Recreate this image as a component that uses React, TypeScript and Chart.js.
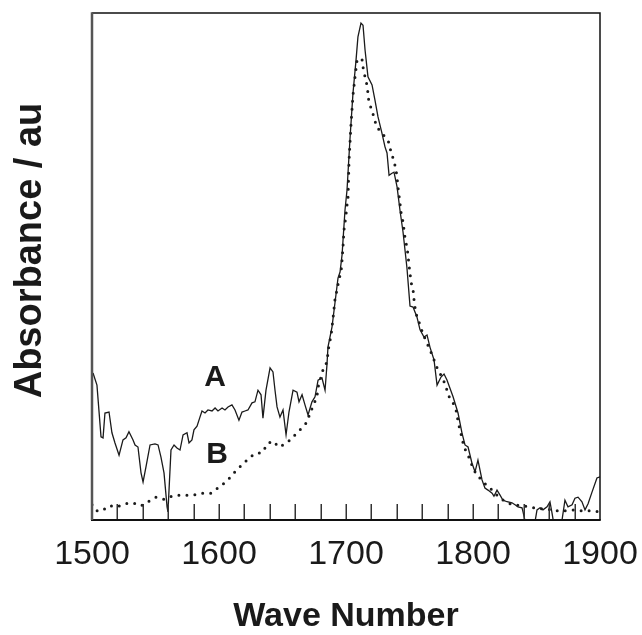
import React, { useEffect, useRef } from "react";
import { Chart, registerables } from "chart.js";

Chart.register(...registerables);

// Spectrum A (solid line): wave number / absorbance (arbitrary units, 0..100)
const waveA = [
  1500.8, 1503.9, 1507.1, 1508.7, 1510.2, 1513.4, 1515.7, 1518.1, 1521.3, 1524.4,
  1526.8, 1529.1, 1532.3, 1533.9, 1536.2, 1538.6, 1540.2, 1542.5, 1545.7, 1549.6,
  1552.0, 1554.3, 1556.7, 1559.1, 1559.8, 1562.2, 1564.6, 1566.9, 1569.3, 1571.7,
  1574.8, 1576.4, 1578.7, 1580.3, 1582.7, 1585.0, 1586.6, 1589.0, 1591.3, 1594.5,
  1596.9, 1599.2, 1602.4, 1604.7, 1607.1, 1610.2, 1612.6, 1615.7, 1618.1, 1620.5,
  1622.8, 1626.0, 1628.3, 1630.7, 1633.1, 1634.6, 1637.0, 1640.2, 1642.5, 1644.1,
  1645.7, 1648.0, 1650.4, 1652.8, 1655.1, 1658.3, 1661.4, 1663.0, 1665.4, 1667.7,
  1670.1, 1673.2, 1675.6, 1678.0, 1681.1, 1683.5, 1685.0, 1685.8, 1689.0, 1691.3,
  1693.7, 1695.3, 1696.9, 1699.2, 1700.8, 1703.1, 1705.5, 1707.9, 1709.4, 1711.8,
  1713.4, 1715.0, 1717.3, 1720.5, 1722.8, 1725.2, 1728.3, 1730.7, 1732.3, 1733.9,
  1736.2, 1737.8, 1740.2, 1742.5, 1744.9, 1748.0, 1750.4, 1752.8, 1755.9, 1758.3,
  1761.4, 1763.8, 1766.1, 1769.3, 1771.7, 1774.8, 1777.2, 1779.5, 1784.3, 1788.2,
  1791.3, 1793.7, 1796.1, 1799.2, 1801.6, 1803.9, 1807.1, 1809.4, 1811.8, 1815.0,
  1816.5, 1818.9, 1821.3, 1823.6, 1826.8, 1830.7, 1833.1, 1835.4, 1838.6, 1839.4,
  1841.7, 1844.9, 1848.8, 1850.4, 1852.8, 1855.1, 1858.3, 1860.6, 1862.2, 1863.8,
  1866.9, 1870.1, 1872.4, 1874.8, 1878.0, 1880.3, 1882.7, 1885.8, 1888.2, 1890.6,
  1893.7, 1897.6, 1900.0,
];
const absA = [
  29.0, 26.6, 16.4, 16.2, 21.1, 21.3, 17.2, 15.2, 12.8, 15.8,
  16.2, 17.4, 15.8, 14.8, 14.4, 9.3, 7.5, 10.5, 14.8, 15.0,
  14.8, 12.4, 9.3, 2.6, 1.6, 13.8, 14.8, 14.2, 13.8, 16.8,
  17.2, 15.2, 15.8, 17.8, 18.5, 20.3, 21.5, 21.1, 21.7, 21.5,
  22.1, 21.5, 22.1, 21.7, 22.3, 22.7, 21.7, 19.7, 21.3, 21.5,
  21.7, 23.1, 23.3, 25.6, 24.7, 20.1, 25.6, 30.0, 29.2, 25.6,
  22.3, 20.3, 21.7, 16.8, 21.3, 25.6, 25.2, 23.3, 24.7, 22.7,
  20.7, 23.3, 24.3, 27.6, 28.0, 25.6, 30.6, 34.1, 38.1, 42.8,
  47.7, 48.9, 52.3, 61.1, 65.1, 75.0, 84.2, 90.7, 95.3, 98.0,
  97.6, 92.7, 87.4, 85.8, 82.8, 79.5, 76.3, 73.6, 72.4, 68.0,
  68.4, 68.6, 65.7, 61.1, 56.8, 49.7, 42.2, 42.0, 40.0, 37.5,
  36.1, 36.5, 34.1, 31.6, 26.6, 28.2, 28.8, 27.6, 24.3, 21.1,
  17.2, 14.8, 14.4, 11.2, 9.5, 11.8, 7.9, 6.3, 5.9, 5.3,
  4.7, 5.9, 4.9, 3.9, 3.6, 3.4, 3.0, 2.6, 2.4, 1.6,
  -1.0, -2.0, -0.4, 2.0, 2.4, 2.0, 2.6, 3.6, 1.4, -1.0,
  -2.0, 0.0, 3.9, 2.6, 3.0, 4.3, 4.5, 3.6, 2.0, 3.2,
  5.5, 8.3, 8.5,
];

// Spectrum B (dotted line)
const waveB = [
  1500.0, 1503.9, 1507.9, 1513.4, 1519.7, 1526.0, 1532.3, 1538.6, 1544.1, 1550.4,
  1556.7, 1559.8, 1566.1, 1572.4, 1579.5, 1586.6, 1593.7, 1600.0, 1606.3, 1611.8,
  1617.3, 1622.0, 1627.6, 1634.6, 1637.8, 1642.5, 1647.2, 1653.5, 1658.3, 1663.8,
  1669.3, 1671.7, 1674.8, 1677.2, 1678.0, 1681.9, 1685.0, 1685.8, 1686.6, 1688.2,
  1689.0, 1689.8, 1691.3, 1692.9, 1694.5, 1696.1, 1696.9, 1697.6, 1698.4, 1699.2,
  1700.0, 1700.8, 1701.6, 1702.4, 1703.9, 1705.5, 1707.1, 1708.7, 1711.0, 1712.6,
  1713.4, 1715.0, 1716.5, 1717.3, 1718.1, 1720.5, 1722.0, 1724.4, 1726.8, 1729.1,
  1731.5, 1733.9, 1735.4, 1737.8, 1739.4, 1740.2, 1740.9, 1741.7, 1742.5, 1743.3,
  1744.9, 1745.7, 1746.5, 1748.0, 1748.8, 1749.6, 1750.4, 1751.2, 1752.8, 1753.5,
  1754.3, 1755.9, 1758.3, 1760.6, 1763.8, 1766.9, 1769.3, 1772.4, 1775.6, 1778.7,
  1780.3, 1784.3, 1787.4, 1788.2, 1789.8, 1791.3, 1792.9, 1796.1, 1799.2, 1801.6,
  1807.1, 1813.4, 1818.9, 1825.2, 1831.5, 1838.6, 1844.9, 1851.2, 1858.3, 1864.6,
  1870.9, 1878.7, 1886.6, 1893.7, 1899.2,
];
const absB = [
  3.0, 1.8, 1.8, 2.8, 2.6, 3.2, 3.4, 2.8, 3.6, 4.5,
  4.1, 4.5, 4.9, 4.9, 4.9, 5.3, 5.3, 6.5, 7.7, 9.3,
  10.7, 11.8, 13.0, 13.4, 15.0, 15.6, 14.4, 15.2, 16.4, 17.8,
  19.3, 21.1, 22.9, 24.5, 26.2, 29.6, 31.2, 32.9, 34.5, 36.3,
  38.1, 39.8, 43.4, 45.4, 47.5, 48.9, 51.3, 53.8, 57.2, 58.6,
  60.2, 62.1, 63.7, 71.0, 77.9, 83.8, 87.4, 90.7, 91.1, 90.9,
  89.3, 87.4, 85.8, 84.2, 82.2, 80.9, 79.3, 77.5, 76.7, 76.1,
  75.3, 74.4, 72.6, 70.8, 69.0, 67.5, 65.7, 64.1, 62.5, 60.7,
  58.8, 57.2, 55.6, 53.8, 52.3, 50.3, 48.7, 46.9, 45.4, 43.6,
  42.0, 40.0, 38.5, 36.7, 34.9, 33.1, 31.6, 29.6, 28.2, 26.4,
  24.7, 23.1, 21.1, 19.3, 17.8, 16.2, 14.4, 12.8, 10.8, 9.5,
  7.7, 6.3, 4.9, 3.6, 3.0, 2.8, 2.6, 2.2, 2.2, 1.8,
  1.8, 2.0, 1.8, 1.8, 1.6,
];

const xTickLabels = [1500, 1600, 1700, 1800, 1900];
const minorTicks = [
  1520, 1540, 1560, 1580, 1600, 1620, 1640, 1660, 1680, 1700,
  1720, 1740, 1760, 1780, 1800, 1820, 1840, 1860, 1880,
];
const curveLabels = ["A", "B"];
const curveLabelX = [1597, 1598.5];
const curveLabelY = [28.0, 12.8];
const yTitle = "Absorbance / au";
const xTitle = "Wave Number";

const FONT = "'Liberation Sans', Arial, Helvetica, sans-serif";

const framePlugin = {
  id: "frameAndTicks",
  afterDatasetsDraw(chart: any) {
    const { ctx, chartArea, scales } = chart;
    const { left, right, top, bottom } = chartArea;
    const xs = scales.x;
    const ys = scales.y;
    ctx.save();
    // inner tick marks
    ctx.strokeStyle = "#333";
    ctx.lineWidth = 1.5;
    minorTicks.forEach((v) => {
      const px = Math.round(xs.getPixelForValue(v)) + 0.25;
      ctx.beginPath();
      ctx.moveTo(px, bottom);
      ctx.lineTo(px, bottom - 16);
      ctx.stroke();
    });
    // frame
    ctx.strokeStyle = "#111";
    ctx.lineWidth = 1.5;
    ctx.beginPath();
    ctx.moveTo(left, top);
    ctx.lineTo(right, top);
    ctx.lineTo(right, bottom);
    ctx.stroke();
    ctx.lineWidth = 2;
    ctx.beginPath();
    ctx.moveTo(left - 1, bottom);
    ctx.lineTo(right + 0.75, bottom);
    ctx.stroke();
    ctx.strokeStyle = "#555";
    ctx.lineWidth = 2.5;
    ctx.beginPath();
    ctx.moveTo(left, top - 0.75);
    ctx.lineTo(left, bottom);
    ctx.stroke();
    // curve labels
    ctx.fillStyle = "#1a1a1a";
    ctx.font = `bold 30px ${FONT}`;
    ctx.textAlign = "center";
    ctx.textBaseline = "middle";
    curveLabels.forEach((t, i) => {
      ctx.fillText(t, xs.getPixelForValue(curveLabelX[i]), ys.getPixelForValue(curveLabelY[i]));
    });
    // y axis title (slightly above the plot's centre, as in the original)
    ctx.font = `bold 38px ${FONT}`;
    ctx.translate(31, (top + bottom) / 2 - 16);
    ctx.rotate(-Math.PI / 2);
    ctx.fillText(yTitle, 0, 0);
    ctx.restore();
  },
};

export default function App() {
  const canvasRef = useRef<HTMLCanvasElement | null>(null);

  useEffect(() => {
    if (!canvasRef.current) return;
    const chart = new Chart(canvasRef.current, {
      type: "line",
      data: {
        datasets: [
          {
            label: "A",
            data: waveA.map((x, i) => ({ x, y: absA[i] })),
            borderColor: "#1a1a1a",
            borderWidth: 1.3,
            pointRadius: 0,
            tension: 0,
            fill: false,
          },
          {
            label: "B",
            data: waveB.map((x, i) => ({ x, y: absB[i] })),
            borderColor: "#1a1a1a",
            borderWidth: 3,
            borderDash: [0, 8],
            borderCapStyle: "round",
            pointRadius: 0,
            tension: 0,
            fill: false,
          },
        ],
      },
      options: {
        animation: false,
        responsive: true,
        maintainAspectRatio: false,
        layout: { padding: { left: 0, right: 42, top: 13, bottom: 0 } },
        plugins: { legend: { display: false }, tooltip: { enabled: false } },
        scales: {
          x: {
            type: "linear",
            min: 1500,
            max: 1900,
            afterBuildTicks: (scale: any) => {
              scale.ticks = xTickLabels.map((v) => ({ value: v }));
            },
            afterFit: (scale: any) => {
              scale.height = 115;
              scale.paddingLeft = 0;
              scale.paddingRight = 0;
            },
            grid: { display: false, drawTicks: false },
            border: { display: false },
            ticks: {
              color: "#1a1a1a",
              padding: 14,
              maxRotation: 0,
              font: { family: FONT, size: 34 },
              callback: (v: any) => String(v),
            },
            title: {
              display: true,
              text: xTitle,
              color: "#1a1a1a",
              font: { family: FONT, size: 34, weight: "bold", lineHeight: 1 },
              padding: { top: 0, bottom: 1 },
            },
          },
          y: {
            type: "linear",
            min: 0,
            max: 100,
            afterFit: (scale: any) => {
              scale.width = 92;
            },
            grid: { display: false, drawTicks: false },
            border: { display: false },
            ticks: { display: false },
            title: { display: false },
          },
        },
      },
      plugins: [framePlugin],
    } as any);
    return () => chart.destroy();
  }, []);

  return (
    <div style={{ position: "fixed", left: 0, top: 0, width: 642, height: 635, background: "#fff" }}>
      <canvas ref={canvasRef} />
    </div>
  );
}
